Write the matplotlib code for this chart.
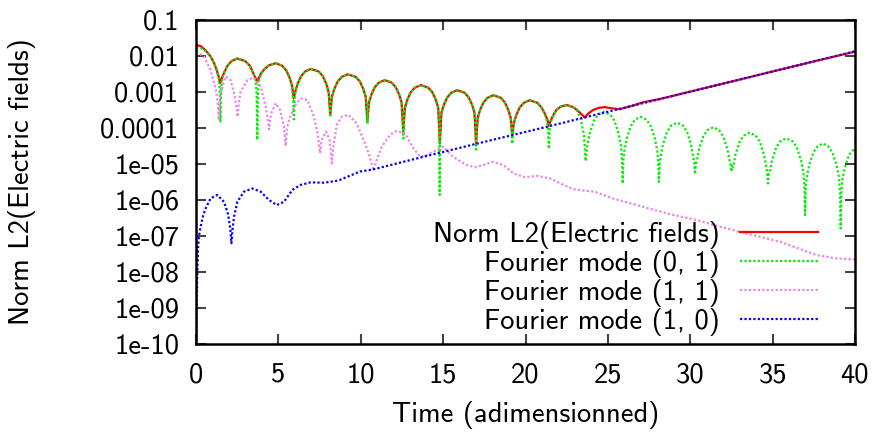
import matplotlib
matplotlib.use("Agg")
import matplotlib.pyplot as plt
import numpy as np
from matplotlib.ticker import FixedLocator, FixedFormatter, NullLocator

# ---------------- data (log10 of values) ----------------
norm_t = [0.00, 0.30, 0.60, 0.90, 1.10, 1.25, 1.38, 1.46,
          1.56, 1.71, 1.91, 2.16, 2.51, 2.98, 3.27, 3.47, 3.62, 3.72,
          3.82, 3.97, 4.17, 4.42, 4.84, 5.23, 5.48, 5.68, 5.83, 5.93,
          6.03, 6.18, 6.38, 6.63, 6.96, 7.45, 7.70, 7.90, 8.05, 8.15,
          8.25, 8.40, 8.60, 8.85, 9.20, 9.70, 9.95, 10.15, 10.30, 10.40,
          10.50, 10.65, 10.85, 11.10, 11.45, 11.88, 12.13, 12.33, 12.48, 12.58,
          12.68, 12.83, 13.03, 13.28, 13.65, 14.10, 14.35, 14.55, 14.70, 14.80,
          14.90, 15.05, 15.25, 15.50, 15.85, 16.30, 16.55, 16.75, 16.90, 17.00,
          17.10, 17.25, 17.45, 17.70, 18.05, 18.50, 18.75, 18.95, 19.10, 19.20,
          19.30, 19.45, 19.65, 19.90, 20.25, 20.72, 20.97, 21.17, 21.32, 21.42,
          21.52, 21.67, 21.87, 22.12, 22.50, 22.90, 23.15, 23.40, 23.60,
          23.80, 24.10, 24.45, 24.80, 25.20, 25.70, 26.10, 26.50, 27.10, 28.20,
          30.00, 32.50, 35.00, 37.50, 40.00]
norm_log10 = [-1.69, -1.73, -1.85, -2.02, -2.20, -2.38, -2.58, -2.76,
              -2.62, -2.46, -2.27, -2.14, -2.07, -2.14, -2.27, -2.47, -2.62, -2.73,
              -2.60, -2.47, -2.36, -2.26, -2.20, -2.27, -2.40, -2.60, -2.82, -3.18,
              -2.98, -2.76, -2.56, -2.43, -2.36, -2.43, -2.56, -2.76, -3.00, -3.64,
              -3.13, -2.91, -2.71, -2.58, -2.51, -2.58, -2.71, -2.91, -3.13, -3.83,
              -3.29, -3.07, -2.87, -2.74, -2.67, -2.74, -2.87, -3.07, -3.29, -4.10,
              -3.43, -3.21, -3.01, -2.88, -2.81, -2.88, -3.01, -3.21, -3.43, -4.42,
              -3.57, -3.35, -3.15, -3.02, -2.95, -3.02, -3.15, -3.35, -3.57, -4.42,
              -3.71, -3.49, -3.29, -3.16, -3.09, -3.16, -3.29, -3.49, -3.71, -4.19,
              -3.85, -3.63, -3.43, -3.30, -3.23, -3.30, -3.43, -3.60, -3.76, -3.94,
              -3.80, -3.66, -3.50, -3.41, -3.36, -3.42, -3.51, -3.62, -3.71,
              -3.60, -3.50, -3.44, -3.42, -3.45, -3.48, -3.43, -3.38, -3.29, -3.19,
              -2.99, -2.71, -2.43, -2.15, -1.88]

mode01_t = [0.00, 0.30, 0.60, 0.90, 1.10, 1.25, 1.38, 1.44, 1.48, 1.52, 1.58,
            1.71, 1.91, 2.16, 2.51, 2.98, 3.27, 3.47, 3.62, 3.68, 3.72, 3.76, 3.82,
            3.97, 4.17, 4.42, 4.84, 5.23, 5.48, 5.68, 5.83, 5.90, 5.94, 5.98, 6.05,
            6.18, 6.38, 6.63, 6.96, 7.45, 7.70, 7.90, 8.05, 8.11, 8.15, 8.19, 8.25,
            8.40, 8.60, 8.85, 9.20, 9.70, 9.95, 10.15, 10.30, 10.37, 10.41, 10.45, 10.52,
            10.65, 10.85, 11.10, 11.45, 11.88, 12.13, 12.33, 12.48, 12.55, 12.59, 12.63, 12.70,
            12.83, 13.03, 13.28, 13.65, 14.10, 14.35, 14.55, 14.70, 14.76, 14.79, 14.82, 14.90,
            15.05, 15.25, 15.50, 15.85, 16.30, 16.55, 16.75, 16.90, 16.96, 17.00, 17.04, 17.10,
            17.25, 17.45, 17.70, 18.05, 18.50, 18.75, 18.95, 19.10, 19.16, 19.20, 19.24, 19.30,
            19.45, 19.65, 19.90, 20.25, 20.72, 20.97, 21.17, 21.32, 21.38, 21.42, 21.46, 21.52,
            21.67, 21.87, 22.12, 22.50, 22.90, 23.15, 23.35, 23.55, 23.65,
            23.75, 23.90, 24.15, 24.40, 24.75, 25.15, 25.40, 25.65, 25.80, 25.86, 25.90,
            25.94, 26.00, 26.15, 26.40, 26.65, 26.98, 27.35, 27.60, 27.85, 28.00, 28.06, 28.10,
            28.14, 28.20, 28.35, 28.60, 28.85, 29.20, 29.55, 29.80, 30.04, 30.19, 30.25, 30.29,
            30.33, 30.39, 30.54, 30.79, 31.04, 31.40, 31.75, 32.00, 32.25, 32.40, 32.46, 32.50,
            32.54, 32.60, 32.75, 33.00, 33.25, 33.60, 33.97, 34.22, 34.47, 34.62, 34.68, 34.72,
            34.76, 34.82, 34.97, 35.22, 35.47, 35.81, 36.22, 36.47, 36.72, 36.87, 36.93, 36.97,
            37.01, 37.07, 37.22, 37.47, 37.72, 38.05, 38.38, 38.63, 38.88, 39.03, 39.09, 39.13,
            39.17, 39.23, 39.38, 39.63, 39.88, 40.00]
mode01_log10 = [-1.78, -1.78, -1.87, -2.03, -2.21, -2.39, -2.62, -2.95, -3.82, -3.00, -2.66,
                -2.46, -2.27, -2.14, -2.07, -2.14, -2.27, -2.47, -2.72, -3.05, -4.33, -3.05, -2.70,
                -2.47, -2.36, -2.26, -2.20, -2.27, -2.40, -2.60, -2.85, -3.25, -3.76, -3.25, -2.95,
                -2.76, -2.56, -2.43, -2.36, -2.43, -2.56, -2.76, -3.00, -3.30, -3.70, -3.30, -3.13,
                -2.91, -2.71, -2.58, -2.51, -2.58, -2.71, -2.91, -3.13, -3.40, -3.88, -3.40, -3.25,
                -3.07, -2.87, -2.74, -2.67, -2.74, -2.87, -3.07, -3.29, -3.60, -4.29, -3.60, -3.43,
                -3.21, -3.01, -2.88, -2.81, -2.88, -3.01, -3.21, -3.45, -3.80, -5.86, -3.80, -3.57,
                -3.35, -3.15, -3.02, -2.95, -3.02, -3.15, -3.35, -3.60, -3.95, -4.60, -3.95, -3.72,
                -3.49, -3.29, -3.16, -3.09, -3.16, -3.29, -3.49, -3.75, -4.00, -4.44, -4.00, -3.85,
                -3.63, -3.43, -3.30, -3.23, -3.30, -3.43, -3.60, -3.85, -4.10, -4.58, -4.10, -3.85,
                -3.66, -3.50, -3.41, -3.36, -3.42, -3.53, -3.75, -4.20, -4.92,
                -4.50, -4.15, -3.80, -3.63, -3.55, -3.63, -3.80, -4.15, -4.50, -4.90, -5.54,
                -4.90, -4.64, -4.29, -3.94, -3.77, -3.69, -3.77, -3.94, -4.29, -4.64, -5.00, -5.50,
                -5.00, -4.80, -4.45, -4.10, -3.93, -3.85, -3.93, -4.10, -4.45, -4.80, -5.00, -5.28,
                -5.00, -4.93, -4.58, -4.23, -4.06, -3.98, -4.06, -4.23, -4.58, -4.93, -5.05, -5.21,
                -5.05, -5.08, -4.73, -4.38, -4.21, -4.13, -4.21, -4.38, -4.73, -5.08, -5.30, -5.54,
                -5.30, -5.24, -4.89, -4.54, -4.37, -4.29, -4.37, -4.54, -4.89, -5.24, -5.60, -6.42,
                -5.60, -5.38, -5.03, -4.68, -4.51, -4.43, -4.51, -4.68, -5.03, -5.38, -5.80, -6.79,
                -5.80, -5.45, -5.10, -4.75, -4.62, -4.58]

mode11_t = [0.00, 0.49, 0.89, 1.20, 1.32, 1.38, 1.45, 1.60, 1.80, 2.10, 2.31, 2.45, 2.53, 2.60,
            2.71, 3.12, 3.50, 3.93, 4.23, 4.36, 4.43, 4.50, 4.57, 4.84, 5.10, 5.34, 5.44, 5.52,
            5.58, 5.95, 6.35, 6.76, 7.16, 7.40, 7.53, 7.62, 7.73, 7.90, 8.10, 8.18, 8.24, 8.34,
            8.54, 8.84, 9.25, 9.75, 10.26, 10.55, 10.76, 10.97, 11.27, 11.78, 12.18, 12.69,
            13.19, 13.60, 14.00, 14.61, 15.00, 15.60, 16.43, 16.93, 17.44, 18.00, 18.66, 19.26,
            19.97, 20.68, 21.49, 22.30, 22.90, 24.20, 25.33, 26.75, 28.57, 30.40, 31.80, 33.40,
            35.45, 37.67, 38.80, 40.00]
mode11_log10 = [-1.88, -2.02, -2.39, -2.94, -3.30, -3.78, -3.20, -2.85, -2.57, -2.67, -3.04, -3.40, -3.69, -3.30,
                -2.99, -2.67, -2.60, -2.85, -3.41, -3.75, -4.04, -3.75, -3.59, -3.31, -3.50, -3.96, -4.50, -4.05,
                -3.87, -3.41, -3.18, -3.22, -3.69, -4.20, -4.70, -4.35, -4.24, -4.10, -4.33, -4.60, -4.98, -4.52,
                -3.92, -3.69, -3.63, -3.87, -4.43, -4.80, -5.18, -4.89, -4.52, -4.19, -4.08, -4.15,
                -4.56, -4.80, -4.75, -4.61, -4.52, -4.80, -5.03, -5.09, -5.03, -4.94, -5.03, -5.26,
                -5.37, -5.33, -5.40, -5.58, -5.70, -5.77, -5.96, -6.14, -6.37, -6.56, -6.74, -6.93,
                -7.16, -7.53, -7.62, -7.65]

mode10_t = [0.00, 0.04, 0.08, 0.13, 0.18, 0.28, 0.45, 0.59, 0.89, 1.29, 1.70, 1.95, 2.08, 2.15,
            2.22, 2.31, 2.51, 2.91, 3.42, 3.93, 4.43, 4.90, 5.34, 5.85, 6.35, 6.96, 7.77, 8.50,
            8.74, 9.95, 10.76, 13.80, 17.00, 20.90, 25.60, 30.00, 35.00, 40.00]
mode10_log10 = [-10.3, -9.0, -8.0, -7.3, -7.0, -6.74, -6.40, -6.23, -5.95, -5.86, -6.05, -6.40, -6.80, -7.20,
                -6.80, -6.46, -6.05, -5.77, -5.68, -5.77, -6.00, -6.14, -6.05, -5.72, -5.58, -5.51, -5.52, -5.47,
                -5.44, -5.21, -5.15, -4.80, -4.44, -4.01, -3.48, -2.99, -2.43, -1.87]

series_labels = ["Norm L2(Electric fields)", "Fourier mode (0, 1)",
                 "Fourier mode (1, 1)", "Fourier mode (1, 0)"]
y_tick_values = [1e-10, 1e-9, 1e-8, 1e-7, 1e-6, 1e-5, 1e-4, 1e-3, 1e-2, 1e-1]
y_tick_labels = ["1e-10", "1e-09", "1e-08", "1e-07", "1e-06", "1e-05",
                 "0.0001", "0.001", "0.01", "0.1"]
x_tick_values = [0, 5, 10, 15, 20, 25, 30, 35, 40]

# ---------------- style ----------------
plt.rcParams['font.family'] = ['cmss10', 'DejaVu Sans']
plt.rcParams['axes.unicode_minus'] = False
plt.rcParams['mathtext.fontset'] = 'cm'
FS = 20.5

fig = plt.figure(figsize=(8.74, 4.32), dpi=100)
ax = fig.add_axes([196/874, 1-344/432, (855-196)/874, (344-20)/432])

styles = [
    dict(color='#ff0000', lw=1.6, ls='-'),
    dict(color='#00ee00', lw=1.6, ls=(0, (1, 1))),
    dict(color='#ee82ee', lw=1.6, ls=(0, (1, 1))),
    dict(color='#0000ff', lw=1.6, ls=(0, (1, 1))),
]
data = [(norm_t, norm_log10), (mode01_t, mode01_log10),
        (mode11_t, mode11_log10), (mode10_t, mode10_log10)]
for (t, lg), st, lab in zip(data, styles, series_labels):
    ax.plot(t, 10.0 ** np.asarray(lg), label=lab, **st)

ax.set_yscale('log')
ax.set_xlim(0, 40)
ax.set_ylim(1e-10, 0.1)
ax.yaxis.set_major_locator(FixedLocator(y_tick_values))
ax.yaxis.set_major_formatter(FixedFormatter(y_tick_labels))
ax.yaxis.set_minor_locator(NullLocator())
ax.xaxis.set_major_locator(FixedLocator(x_tick_values))
ax.set_xticklabels([str(v) for v in x_tick_values])
ax.xaxis.set_minor_locator(NullLocator())

ax.tick_params(axis='both', which='major', direction='in', length=7, width=1.5,
               color='#444444', labelsize=FS, top=True, right=True)
ax.tick_params(axis='x', pad=13)
ax.tick_params(axis='y', pad=12)
for sp in ax.spines.values():
    sp.set_linewidth(1.8)
    sp.set_color('black')

ax.set_xlabel("Time (adimensionned)", fontsize=FS, labelpad=10)
ax.set_ylabel("Norm L2(Electric fields)", fontsize=FS, labelpad=46)

leg = ax.legend(loc='lower right', bbox_to_anchor=(0.944, 0.025), frameon=False,
                markerfirst=False, fontsize=FS, handlelength=2.74, handletextpad=0.7,
                labelspacing=0.035, borderpad=0, borderaxespad=0)
for t in leg.get_texts():
    t.set_ha('right')

fig.savefig("out.png", dpi=100)
